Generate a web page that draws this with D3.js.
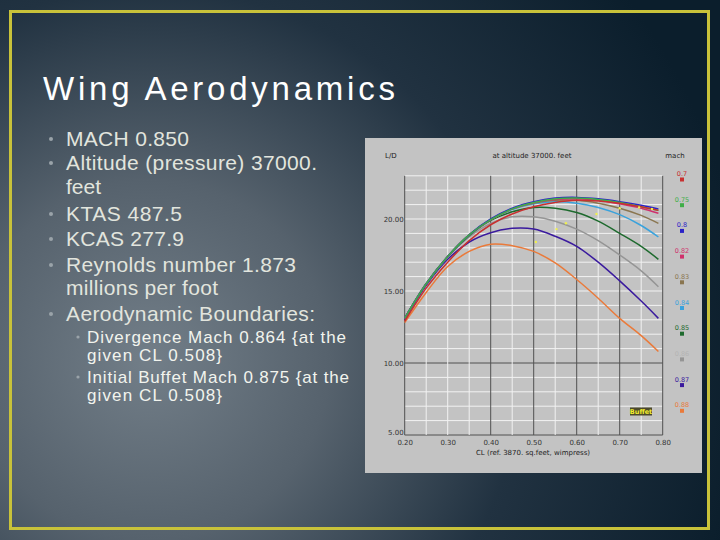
<!DOCTYPE html>
<html>
<head>
<meta charset="utf-8">
<script src="https://cdn.jsdelivr.net/npm/d3@7"></script>
<style>
  html, body { margin: 0; padding: 0; background: #1b2a38; }
  svg { display: block; }
</style>
</head>
<body>
<script>
// slide text
const title = 'Wing Aerodynamics';
const bullets = [
    ['MACH 0.850'],
    ['Altitude (pressure) 37000.', 'feet'],
    ['KTAS 487.5'],
    ['KCAS 277.9'],
    ['Reynolds number 1.873', 'millions per foot'],
    ['Aerodynamic Boundaries:']
];
const subBullets = [
    ['Divergence Mach 0.864 {at the', 'given CL 0.508}'],
    ['Initial Buffet Mach 0.875 {at the', 'given CL 0.508}']
];

// chart data: L/D against CL for each mach
const clValues = [0.20, 0.25, 0.30, 0.35, 0.40, 0.45, 0.50, 0.55, 0.60, 0.65, 0.70, 0.75, 0.79];
const machLabels = ['0.7', '0.75', '0.8', '0.82', '0.83', '0.84', '0.85', '0.86', '0.87', '0.88'];
const ldMach070 = [12.9, 15.2, 17.0, 18.5, 19.6, 20.35, 20.85, 21.15, 21.3, 21.25, 21.1, 20.85, 20.6];
const ldMach075 = [13.1, 15.5, 17.4, 18.9, 19.95, 20.7, 21.15, 21.4, 21.45, 21.35, 21.15, 20.85, 20.6];
const ldMach080 = [13.1, 15.5, 17.4, 18.9, 20.0, 20.75, 21.2, 21.45, 21.5, 21.4, 21.2, 20.95, 20.7];
const ldMach082 = [13.1, 15.5, 17.4, 18.9, 19.95, 20.7, 21.15, 21.35, 21.4, 21.3, 21.05, 20.75, 20.4];
const ldMach083 = [13.1, 15.5, 17.4, 18.9, 19.95, 20.7, 21.1, 21.3, 21.3, 21.1, 20.75, 20.25, 19.7];
const ldMach084 = [13.1, 15.5, 17.4, 18.9, 19.95, 20.65, 21.05, 21.2, 21.1, 20.8, 20.3, 19.55, 18.75];
const ldMach085 = [13.1, 15.5, 17.4, 18.85, 19.9, 20.5, 20.8, 20.75, 20.45, 19.85, 19.0, 18.1, 17.2];
const ldMach086 = [13.1, 15.5, 17.35, 18.75, 19.7, 20.15, 20.15, 19.85, 19.3, 18.5, 17.5, 16.4, 15.3];
const ldMach087 = [13.0, 15.4, 17.2, 18.4, 19.05, 19.35, 19.3, 18.8, 18.1, 17.0, 15.7, 14.3, 13.1];
const ldMach088 = [12.8, 14.9, 16.7, 17.75, 18.25, 18.15, 17.75, 16.95, 15.8, 14.5, 13.1, 11.9, 10.8];
const buffetCL = [0.505, 0.553, 0.575, 0.646, 0.70, 0.745, 0.775];
const buffetLD = [18.4, 19.3, 19.7, 20.35, 20.75, 20.8, 20.7];

const xTicks = [0.20, 0.30, 0.40, 0.50, 0.60, 0.70, 0.80];
const yTicks = [5, 10, 15, 20];

const ldSeries = [ldMach070, ldMach075, ldMach080, ldMach082, ldMach083,
    ldMach084, ldMach085, ldMach086, ldMach087, ldMach088];
const colors = ['#c83030', '#3fae48', '#2a22c8', '#d0306c', '#8a7650',
    '#3aa2dc', '#1e6a2e', '#959595', '#3a1a9e', '#ea7a3a'];

const width = 720;
const height = 540;

const svg = d3.select('body').append('svg')
    .attr('width', width)
    .attr('height', height)
    .attr('viewBox', [0, 0, width, height]);

// background
const defs = svg.append('defs');
const grad = defs.append('radialGradient')
    .attr('id', 'bg')
    .attr('gradientUnits', 'userSpaceOnUse')
    .attr('cx', 150).attr('cy', 360).attr('r', 600);
grad.append('stop').attr('offset', 0).attr('stop-color', '#727e88');
grad.append('stop').attr('offset', 0.3).attr('stop-color', '#56626d');
grad.append('stop').attr('offset', 0.62).attr('stop-color', '#213241');
grad.append('stop').attr('offset', 1).attr('stop-color', '#0b1e2c');

svg.append('rect')
    .attr('width', width).attr('height', height)
    .attr('fill', 'url(#bg)');

svg.append('rect')
    .attr('x', 10.5).attr('y', 11.5)
    .attr('width', 698).attr('height', 517)
    .attr('fill', 'none')
    .attr('stroke', '#c8c23a')
    .attr('stroke-width', 3);

// title and bullets
svg.append('text')
    .attr('x', 43).attr('y', 100)
    .attr('font-family', 'Liberation Sans, Arial, sans-serif')
    .attr('font-size', 33)
    .attr('fill', '#ffffff')
    .attr('textLength', 352)
    .attr('lengthAdjust', 'spacing')
    .text(title);

const mainWidths = [[123], [251, 35], [116], [118], [230, 152], [249]];
const mainY = [146, 170, 194, 221, 246, 272, 295, 321];
const subWidths = [[259, 135], [262, 135]];
const subY = [343, 361, 383, 401];

const textFont = 'Liberation Sans, Arial, sans-serif';
let row = 0;
bullets.forEach((lines, i) => {
    svg.append('circle')
        .attr('cx', 51).attr('cy', mainY[row] - 7)
        .attr('r', 2).attr('fill', '#9aa3a9');
    lines.forEach((line, j) => {
        svg.append('text')
            .attr('x', 66).attr('y', mainY[row])
            .attr('font-family', textFont)
            .attr('font-size', 21)
            .attr('fill', '#e2e5de')
            .attr('textLength', mainWidths[i][j])
            .attr('lengthAdjust', 'spacing')
            .text(line);
        row++;
    });
});

row = 0;
subBullets.forEach((lines, i) => {
    svg.append('circle')
        .attr('cx', 78).attr('cy', subY[row] - 6)
        .attr('r', 1.6).attr('fill', '#9aa3a9');
    lines.forEach((line, j) => {
        svg.append('text')
            .attr('x', 87).attr('y', subY[row])
            .attr('font-family', textFont)
            .attr('font-size', 17)
            .attr('fill', '#f2f4ee')
            .attr('textLength', subWidths[i][j])
            .attr('lengthAdjust', 'spacing')
            .text(line);
        row++;
    });
});

// chart panel
const chartFont = 'DejaVu Sans, sans-serif';
svg.append('rect')
    .attr('x', 365).attr('y', 138)
    .attr('width', 337).attr('height', 335)
    .attr('fill', '#c3c3c3');

const x = d3.scaleLinear().domain([0.2, 0.8]).range([404.7, 662.7]);
const y = d3.scaleLinear().domain([5, 23]).range([435, 175.8]);

const grid = svg.append('g');
grid.selectAll('line.h')
    .data(d3.range(5, 24, 1))
    .join('line')
    .attr('x1', x(0.2)).attr('x2', x(0.8))
    .attr('y1', d => y(d)).attr('y2', d => y(d))
    .attr('stroke', d => d === 10 || d === 5 ? '#505050' : '#f2f2f2')
    .attr('stroke-width', 1);

grid.selectAll('line.v')
    .data(d3.range(0, 13).map(i => 0.2 + i * 0.05))
    .join('line')
    .attr('x1', d => x(d)).attr('x2', d => x(d))
    .attr('y1', y(5)).attr('y2', y(23))
    .attr('stroke', d => {
        const k = Math.round(d * 100);
        return (k >= 40 && k % 10 === 0) || k === 20 ? '#505050' : '#f2f2f2';
    })
    .attr('stroke-width', 1);

// axes
const xAxis = d3.axisBottom(x).tickValues(xTicks).tickSize(0).tickFormat(d3.format('.2f'));
const yAxis = d3.axisLeft(y).tickValues(yTicks).tickSize(0).tickFormat(d3.format('.2f'));

svg.append('g')
    .attr('transform', `translate(0,${y(5)})`)
    .call(xAxis)
    .call(g => g.select('.domain').remove())
    .call(g => g.selectAll('text')
        .attr('dy', '0.95em')
        .attr('font-family', chartFont)
        .attr('font-size', 7)
        .attr('fill', '#333'));

svg.append('g')
    .attr('transform', `translate(${x(0.2)},0)`)
    .call(yAxis)
    .call(g => g.select('.domain').remove())
    .call(g => g.selectAll('text')
        .attr('x', -1)
        .attr('dy', d => d === 5 ? '-0.1em' : '0.32em')
        .attr('font-family', chartFont)
        .attr('font-size', 7)
        .attr('fill', '#333'));

// curves
const line = d3.line()
    .x((d, i) => x(clValues[i]))
    .y(d => y(d))
    .curve(d3.curveCatmullRom.alpha(0.5));

svg.append('g')
    .attr('fill', 'none')
    .attr('stroke-width', 1.5)
    .selectAll('path')
    .data(ldSeries.map((v, i) => ({ values: v, color: colors[i] })).reverse())
    .join('path')
    .attr('stroke', d => d.color)
    .attr('d', d => line(d.values));

// buffet markers
svg.append('g')
    .selectAll('circle')
    .data(buffetCL)
    .join('circle')
    .attr('cx', d => x(d))
    .attr('cy', (d, i) => y(buffetLD[i]))
    .attr('r', 1.2)
    .attr('fill', '#f0f050');

svg.append('rect')
    .attr('x', 630).attr('y', 407.5)
    .attr('width', 22).attr('height', 8)
    .attr('fill', '#4c4a2c');
svg.append('text')
    .attr('x', 641).attr('y', 414)
    .attr('text-anchor', 'middle')
    .attr('font-family', chartFont)
    .attr('font-size', 6.5)
    .attr('font-weight', 'bold')
    .attr('fill', '#f4f030')
    .text('Buffet');

// chart labels
const labelStyle = t => t
    .attr('font-family', chartFont)
    .attr('font-size', 7)
    .attr('fill', '#222');

svg.append('text').attr('x', 385).attr('y', 158).text('L/D').call(labelStyle);
svg.append('text').attr('x', 532).attr('y', 158).attr('text-anchor', 'middle')
    .text('at altitude 37000. feet').call(labelStyle);
svg.append('text').attr('x', 675).attr('y', 158).attr('text-anchor', 'middle')
    .text('mach').call(labelStyle);
svg.append('text').attr('x', 533).attr('y', 455).attr('text-anchor', 'middle')
    .text('CL  (ref. 3870. sq.feet, wimpress)').call(labelStyle);

// legend
const legend = svg.append('g')
    .selectAll('g')
    .data(machLabels)
    .join('g')
    .attr('transform', (d, i) => `translate(682,${176 + i * 25.7})`);

legend.append('text')
    .attr('text-anchor', 'middle')
    .attr('font-family', chartFont)
    .attr('font-size', 6.5)
    .attr('fill', (d, i) => i === 7 ? '#b4b4b4' : colors[i])
    .text(d => d);

legend.append('rect')
    .attr('x', -2).attr('y', 1.5)
    .attr('width', 4).attr('height', 4)
    .attr('fill', (d, i) => colors[i]);
</script>
</body>
</html>
